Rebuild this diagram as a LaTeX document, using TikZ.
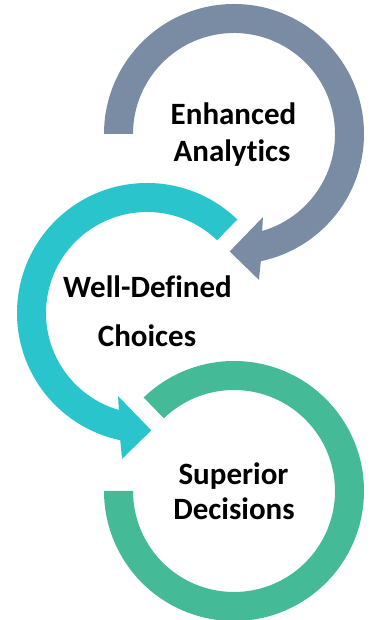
\documentclass[tikz,border=0pt]{standalone}
\usepackage{fontspec}
\setmainfont{Carlito}[Ligatures=NoCommon]
\usetikzlibrary{calc}
\definecolor{slate}{HTML}{7A8CA3}
\definecolor{aqua}{HTML}{29C4CC}
\definecolor{jade}{HTML}{45BA97}
\tikzset{
  lbl/.style={font=\bfseries\fontsize{31}{33}\selectfont, anchor=base, inner sep=0pt, text=black},
}
\begin{document}
\begin{tikzpicture}[x=1pt,y=1pt]
\useasboundingbox (0,0) rectangle (369,620);
% gray arrow, centre (234,486)
\fill[slate] (234,486) ++(180:130) arc[start angle=180, end angle=-78.1, radius=130]
  -- ($(234,486)+(-80.3:148)$) -- ($(234,486)+(-92.1:117.5)$) -- ($(234,486)+(-70.8:88)$)
  -- ($(234,486)+(-73.8:101)$) arc[start angle=-73.8, end angle=180, radius=101] -- cycle;
% teal arrow, centre (147,307)
\fill[aqua] (147,307) ++(46:130) arc[start angle=46, end angle=258.1, radius=130]
  -- ($(147,307)+(260.3:148)$) -- ($(147,307)+(272.1:117.5)$) -- ($(147,307)+(250.8:88)$)
  -- ($(147,307)+(253.8:101)$) arc[start angle=253.8, end angle=46, radius=101] -- cycle;
% green ring, centre (234,129)
\fill[jade] (234,129) ++(-180:130) arc[start angle=-180, end angle=134, radius=130]
  -- ($(234,129)+(134:101)$) arc[start angle=134, end angle=-180, radius=101] -- cycle;
\node[lbl] (ea1) at (233.5,495) {Enhanced};
\node[lbl] (ea2) at (232,458) {Analytics};
\node[lbl] (wd1) at (147.5,322) {Well-Defined};
\node[lbl] (wd2) at (147,273) {Choices};
\node[lbl] (sd1) at (233.5,135) {Superior};
\node[lbl] (sd2) at (234,100) {Decisions};
\end{tikzpicture}
\end{document}
